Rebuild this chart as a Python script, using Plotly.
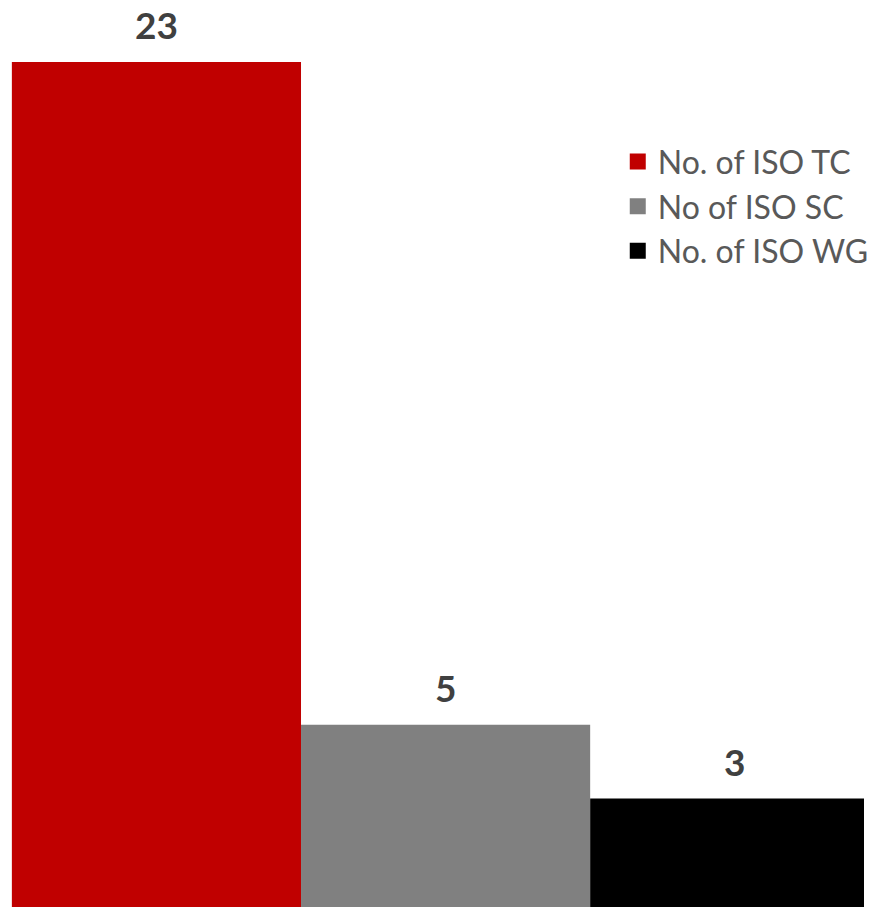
import plotly.graph_objects as go

# ── Data ──────────────────────────────────────────────────────────────────────
series_names = ["No. of ISO TC", "No of ISO SC", "No. of ISO WG"]
series_values = [23, 5, 3]
series_colors = ["#C00000", "#808080", "#000000"]

LABEL_COLOR = "#404040"
LEGEND_COLOR = "#595959"

fig = go.Figure()
for i, (name, val, color) in enumerate(zip(series_names, series_values, series_colors)):
    fig.add_trace(go.Bar(
        name=name,
        x=[i],
        y=[val],
        width=1,
        marker_color=color,
        marker_line_width=0,
        legendgroup=name,
        showlegend=False,
        hoverinfo="skip",
    ))
    # legend entry with a larger square swatch than the bar default
    fig.add_trace(go.Scatter(
        name=name,
        x=[None], y=[None],
        mode="markers",
        marker=dict(symbol="square", size=20, color=color),
        legendgroup=name,
        showlegend=True,
    ))
    fig.add_annotation(
        x=i, y=val,
        text=f"<b>{val}</b>",
        showarrow=False,
        yanchor="bottom",
        yshift=13,
        font=dict(family="Lato", size=37, color=LABEL_COLOR),
    )

fig.update_layout(
    width=874,
    height=907,
    margin=dict(l=0, r=0, t=0, b=0),
    plot_bgcolor="white",
    paper_bgcolor="white",
    barmode="overlay",
    showlegend=True,
    legend=dict(
        x=0.715, y=0.852,
        xanchor="left", yanchor="top",
        traceorder="grouped",
        tracegroupgap=0,
        itemsizing="trace",
        # fixed entry width so the legend does not push the right margin
        entrywidth=150,
        entrywidthmode="pixels",
        font=dict(family="Lato", size=32, color=LEGEND_COLOR),
        bgcolor="rgba(0,0,0,0)",
    ),
    xaxis=dict(range=[-0.541, 2.447], visible=False, fixedrange=True),
    yaxis=dict(range=[0.054, 24.68], visible=False, fixedrange=True),
)

# drop the browser's default page margin and scrollbars so the figure fills the window
page_css = (
    "document.body.style.margin='0';"
    "document.body.style.overflow='hidden';"
    "document.documentElement.style.overflow='hidden';"
)
fig.write_html(
    "out.html",
    config={"displayModeBar": False},
    post_script=page_css,
)
